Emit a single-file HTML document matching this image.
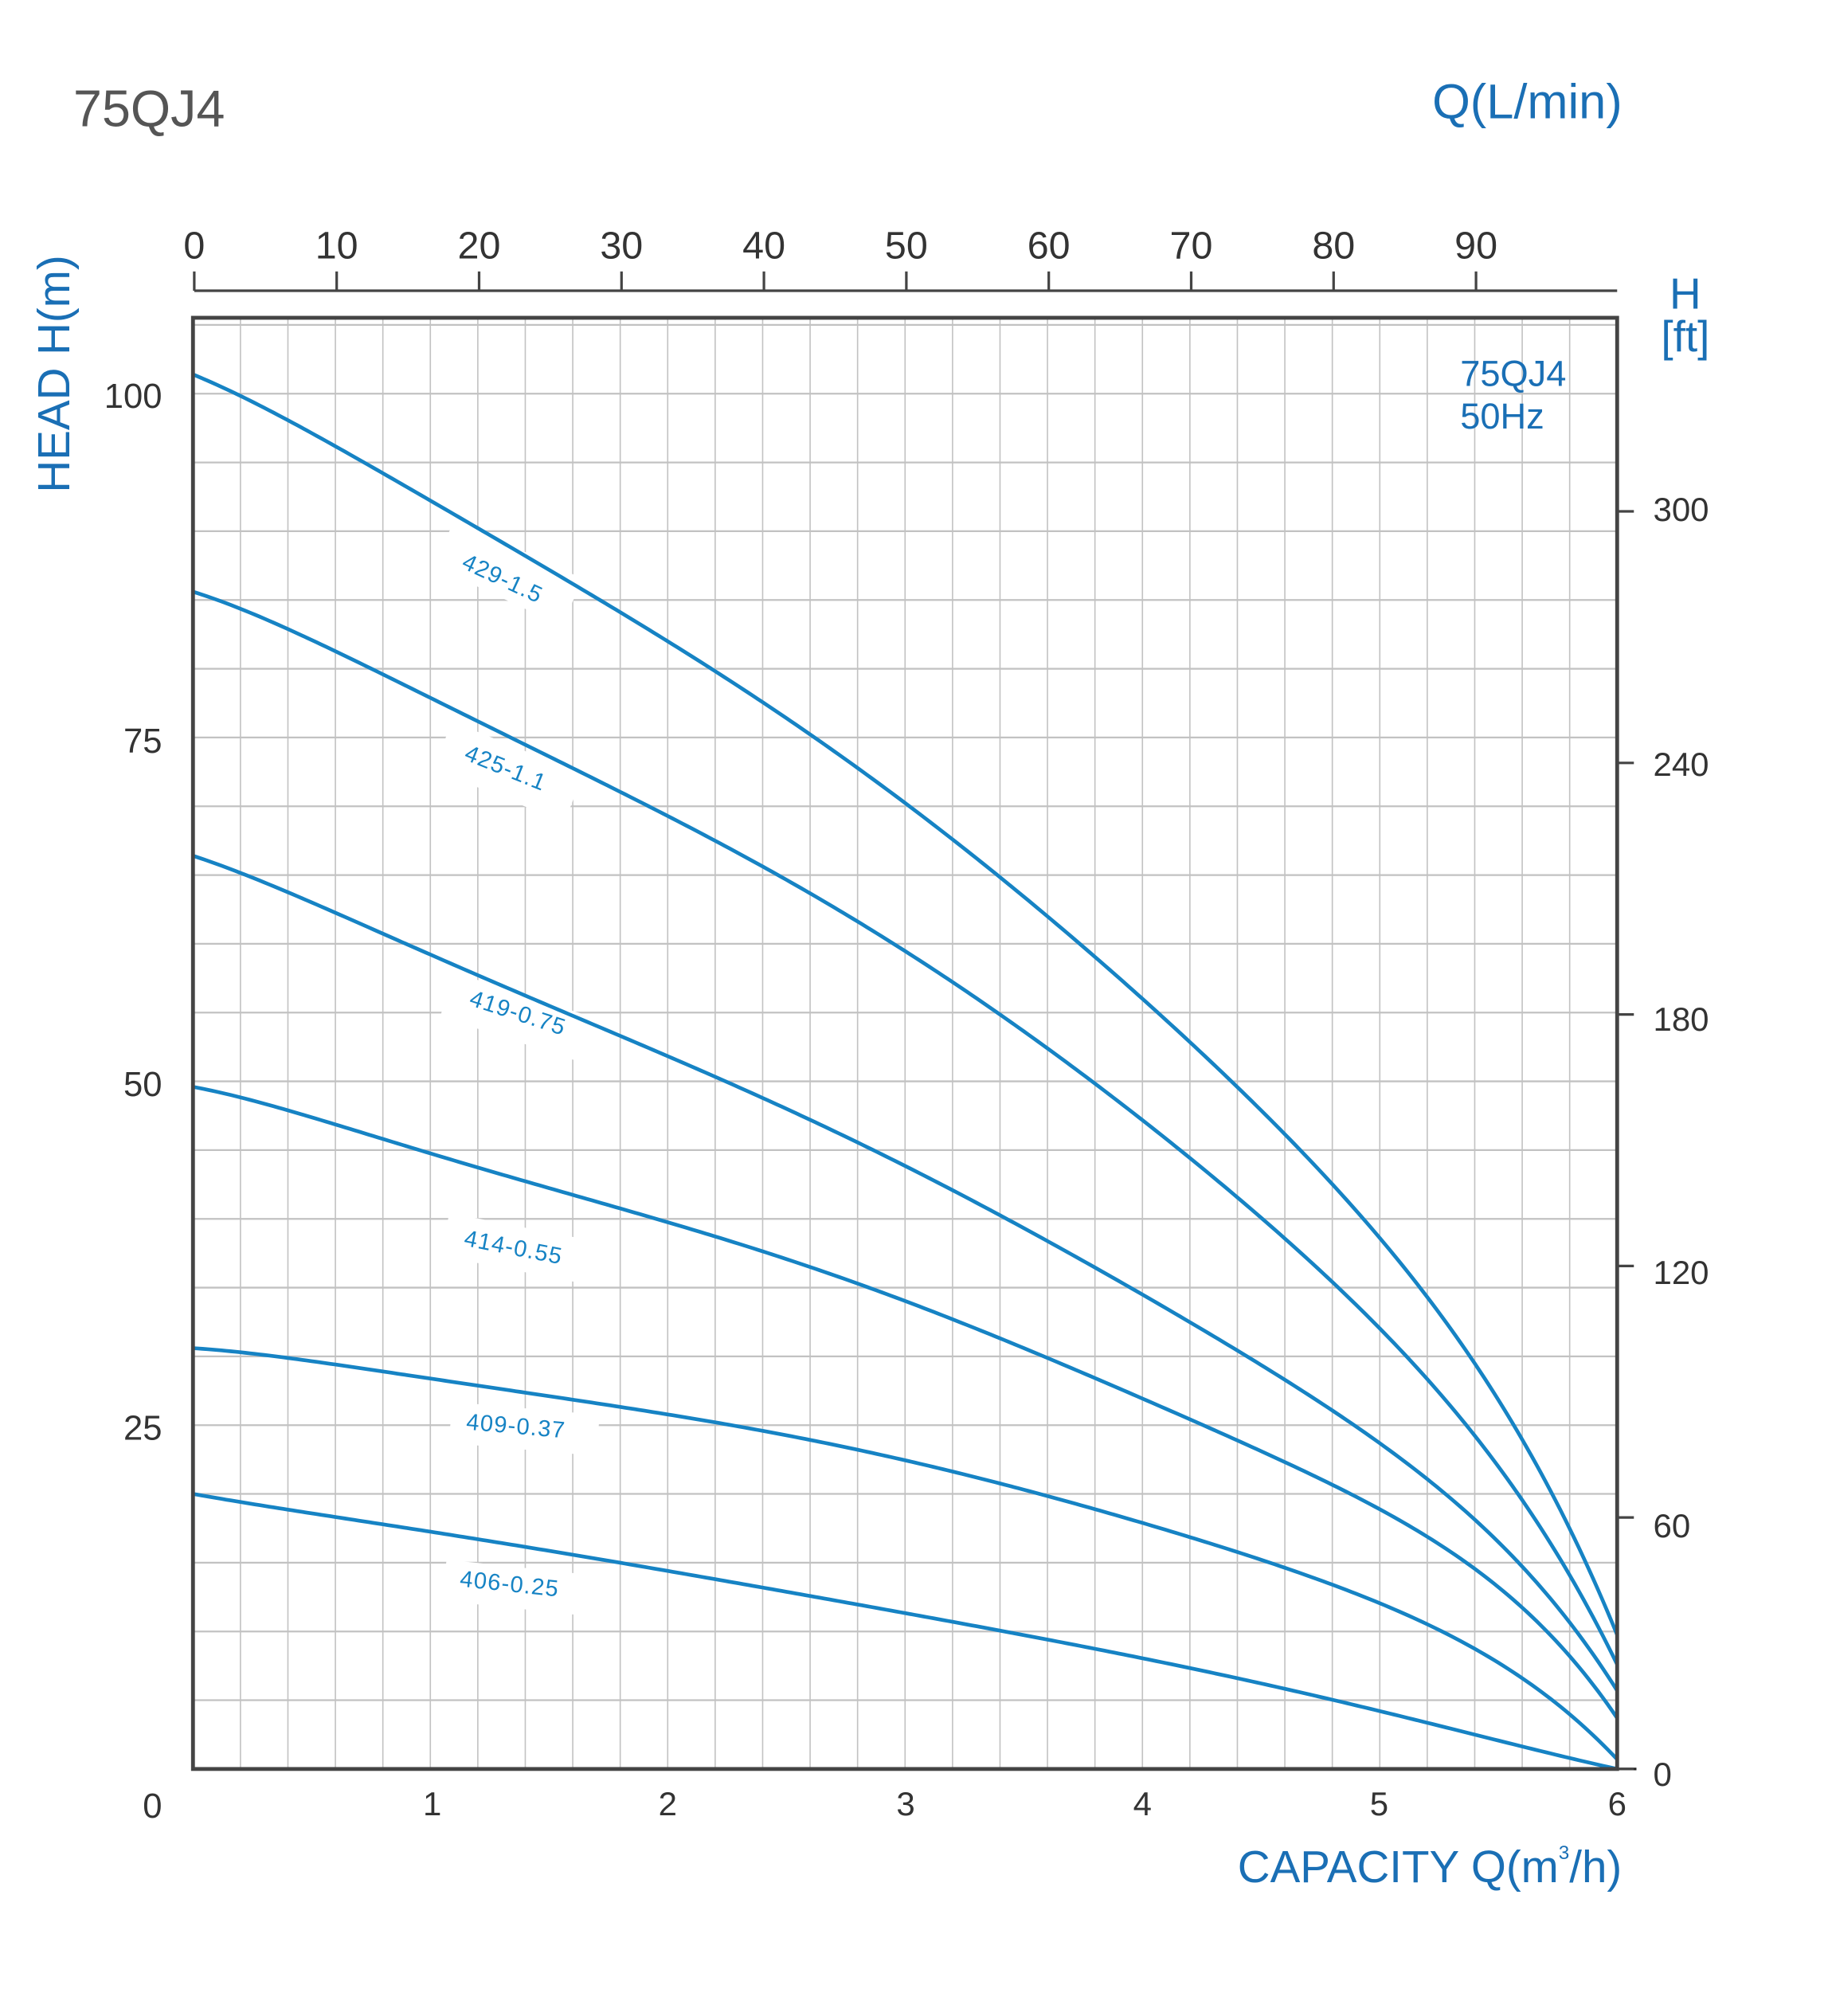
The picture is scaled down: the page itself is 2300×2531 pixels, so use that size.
<!DOCTYPE html>
<html><head><meta charset="utf-8"><style>
html,body{margin:0;padding:0;background:#fff;}
svg{display:block;}
text{font-family:"Liberation Sans",sans-serif;}
</style></head><body>
<svg id="s" width="2300" height="2531" viewBox="0 0 1424 1567" preserveAspectRatio="none">
<rect width="1424" height="1567" fill="#fff"/>
<g id="grid" stroke="#c2c2c2" stroke-width="1"></g>
<g id="lbg" fill="#fff">
<rect x="340" y="425" width="110" height="40" transform="rotate(25 395 445)"/>
<rect x="340" y="580" width="110" height="40" transform="rotate(22 395 600)"/>
<rect x="345" y="772" width="115" height="36" transform="rotate(18 400 790)"/>
<rect x="345" y="953" width="120" height="34" transform="rotate(11 400 970)"/>
<rect x="350" y="1094" width="115" height="32" transform="rotate(5 400 1110)"/>
<rect x="345" y="1218" width="115" height="32" transform="rotate(6 400 1235)"/>
</g>
<g id="curves" fill="none" stroke="#1683c4" stroke-width="2.9" stroke-linejoin="round"></g>
<rect x="150" y="247" width="1107" height="1128" fill="none" stroke="#444" stroke-width="3"/>
<line x1="1257" y1="1375" x2="1272" y2="1375" stroke="#222" stroke-width="2"/>
<g id="top" stroke="#444" stroke-width="2"><line x1="151" y1="226" x2="1257" y2="226"/></g>
<g id="labels" font-size="18" fill="#1683c4" letter-spacing="0.8">
<text transform="translate(358,441) rotate(25)">429-1.5</text>
<text transform="translate(360,590) rotate(22)">425-1.1</text>
<text transform="translate(364,781) rotate(18)">419-0.75</text>
<text transform="translate(360,968) rotate(11)">414-0.55</text>
<text transform="translate(362,1111) rotate(5)">409-0.37</text>
<text transform="translate(357,1233) rotate(6)">406-0.25</text>
</g>
<text x="57" y="98" font-size="40" fill="#555">75QJ4</text>
<text x="1261" y="92" font-size="38" fill="#1a6fb5" text-anchor="end">Q(L/min)</text>
<text transform="translate(54,383) rotate(-90)" font-size="35" fill="#1a6fb5">HEAD H(m)</text>
<text x="1310" y="240" font-size="34" fill="#1a6fb5" text-anchor="middle">H</text>
<text x="1310" y="273" font-size="34" fill="#1a6fb5" text-anchor="middle">[ft]</text>
<text x="1135" y="300" font-size="28" fill="#1a6fb5">75QJ4</text>
<text x="1135" y="333" font-size="28" fill="#1a6fb5">50Hz</text>
<text x="962" y="1463" font-size="35" fill="#1a6fb5">CAPACITY Q(m<tspan font-size="15" dy="-18">3</tspan><tspan dy="18">/h)</tspan></text>
<g font-size="27" fill="#333" text-anchor="end">
<text x="126" y="317">100</text><text x="126" y="585">75</text><text x="126" y="852">50</text><text x="126" y="1119">25</text><text x="126" y="1413">0</text>
</g>
<g font-size="26" fill="#333" text-anchor="middle">
<text x="336" y="1411">1</text><text x="519" y="1411">2</text><text x="704" y="1411">3</text><text x="888" y="1411">4</text><text x="1072" y="1411">5</text><text x="1257" y="1411">6</text>
</g>
<g font-size="26" fill="#333">
<text x="1285" y="1388">0</text><text x="1285" y="1195">60</text><text x="1285" y="998">120</text><text x="1285" y="801">180</text><text x="1285" y="603">240</text><text x="1285" y="405">300</text>
</g>
<g id="rt" stroke="#444" stroke-width="2"></g>
<g id="toplab" font-size="30" fill="#333" text-anchor="middle"></g>
</svg>
<script>
var NS="http://www.w3.org/2000/svg";
function el(p,t,a){var e=document.createElementNS(NS,t);for(var k in a)e.setAttribute(k,a[k]);document.getElementById(p).appendChild(e);return e;}
for(var i=1;i<30;i++){var x=150+i*1107/30;el("grid","line",{x1:x,y1:247,x2:x,y2:1375});}
for(var j=1;j<=21;j++){var y=1375-j*5*10.69;if(y>248)el("grid","line",{x1:150,y1:y,x2:1257,y2:y,"stroke-width":1.4});}
for(var q=0;q<=90;q+=10){var x=151+q*11.07;el("top","line",{x1:x,y1:211,x2:x,y2:226});var t=el("toplab","text",{x:x,y:201});t.textContent=q;}
[0,60,120,180,240,300].forEach(function(f){var y=1375-f*0.3048*10.69;el("rt","line",{x1:1257,y1:y,x2:1270,y2:y});});
var Q=[0,.4,.8,1.2,1.6,2.03,2.6,3.0,3.4,3.8,4.2,4.42,5,5.4,5.6,5.81,6];
var H=[
[101.4,97.8,94.4,90.4,86.0,81.6,75.4,70.1,64.7,59.2,53.0,49.3,38.3,29.4,24.1,17.4,9.75],
[85.6,82.9,79.6,76.1,72.8,69.1,63.7,59.4,54.7,49.9,44.6,41.3,31.9,24.1,19.5,14.2,7.6],
[66.4,63.7,60.8,57.7,54.7,51.7,47.2,43.8,40.2,36.5,32.6,30.2,23.6,18.1,14.7,10.6,5.7],
[49.6,47.7,45.9,43.8,41.8,39.6,36.3,34.0,31.4,28.5,25.5,23.8,18.6,14.5,11.7,8.5,3.7],
[30.6,29.8,28.9,28.0,26.8,25.7,23.9,22.4,20.7,19.0,17.0,15.6,11.9,8.7,6.6,4.1,0.7],
[20.0,18.9,17.8,16.6,15.6,14.4,12.6,11.3,9.9,8.8,7.5,6.5,4.1,2.5,1.6,0.9,0]];
function fit(xs,ys,deg){var n=deg+1,A=[],b=[];for(var i=0;i<n;i++){A.push(new Array(n).fill(0));b.push(0);}
for(var k=0;k<xs.length;k++){var w=(k==0||k==xs.length-1)?50:1;for(var i=0;i<n;i++){b[i]+=w*ys[k]*Math.pow(xs[k],i);for(var j=0;j<n;j++)A[i][j]+=w*Math.pow(xs[k],i+j);}}
for(var c=0;c<n;c++){var p=c;for(var r=c+1;r<n;r++)if(Math.abs(A[r][c])>Math.abs(A[p][c]))p=r;var t=A[c];A[c]=A[p];A[p]=t;t=b[c];b[c]=b[p];b[p]=t;
for(var r=0;r<n;r++)if(r!=c){var f=A[r][c]/A[c][c];for(var j=c;j<n;j++)A[r][j]-=f*A[c][j];b[r]-=f*b[c];}}
return b.map(function(v,i){return v/A[i][i];});}
H.forEach(function(h){var xs=Q.map(function(q){return q/6;});var co=fit(xs,h,6);
var d="";for(var s=0;s<=300;s++){var t=s/300,v=0;for(var i=0;i<co.length;i++)v+=co[i]*Math.pow(t,i);
d+=(s?"L":"M")+(150+t*1107).toFixed(2)+","+(1375-v*10.69).toFixed(2);}el("curves","path",{d:d});});
</script>
</body></html>
